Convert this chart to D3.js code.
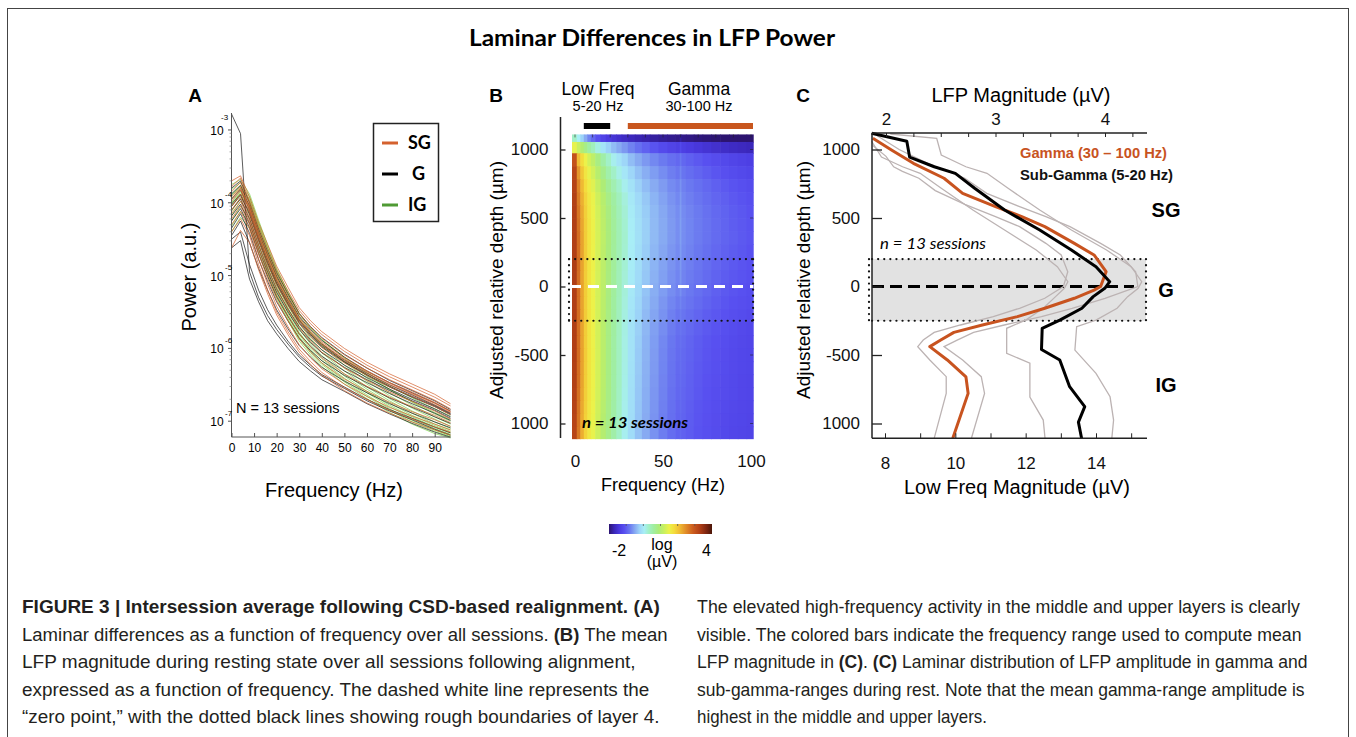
<!DOCTYPE html>
<html><head><meta charset="utf-8">
<script src="https://cdn.jsdelivr.net/npm/d3@7"></script>
<style>
body{margin:0;background:#fff;}
svg{display:block;}
</style></head><body>
<svg id="fig" width="1356" height="737"></svg>
<script>
// ---------- Panel A: spectra for every session, one line per layer ----------
const freqA = [0,4,8,12,16,20,25,30,35,40,50,60,70,80,90,97];
// log10 power (a.u.)
const logPowerSG = [
 [-3.70,-3.63,-3.92,-4.27,-4.57,-4.87,-5.16,-5.44,-5.62,-5.77,-6.00,-6.19,-6.35,-6.49,-6.63,-6.76],
 [-3.78,-3.66,-3.98,-4.33,-4.63,-4.92,-5.21,-5.48,-5.66,-5.81,-6.04,-6.23,-6.39,-6.53,-6.67,-6.79],
 [-3.85,-3.72,-4.02,-4.38,-4.69,-4.98,-5.27,-5.53,-5.71,-5.86,-6.09,-6.27,-6.43,-6.57,-6.71,-6.83],
 [-3.92,-3.78,-4.06,-4.42,-4.73,-5.03,-5.32,-5.58,-5.76,-5.91,-6.13,-6.31,-6.47,-6.60,-6.74,-6.86],
 [-3.98,-3.83,-4.10,-4.47,-4.79,-5.08,-5.37,-5.62,-5.80,-5.95,-6.17,-6.34,-6.50,-6.63,-6.77,-6.88],
 [-4.05,-3.88,-4.14,-4.52,-4.84,-5.13,-5.41,-5.66,-5.84,-5.99,-6.20,-6.37,-6.53,-6.66,-6.80,-6.91],
 [-4.10,-3.93,-4.20,-4.58,-4.90,-5.19,-5.47,-5.72,-5.90,-6.05,-6.27,-6.44,-6.60,-6.73,-6.86,-6.97],
 [-4.15,-3.98,-4.25,-4.64,-4.97,-5.27,-5.55,-5.80,-5.98,-6.13,-6.35,-6.52,-6.67,-6.80,-6.92,-7.02],
 [-4.22,-4.04,-4.30,-4.70,-5.04,-5.34,-5.62,-5.87,-6.05,-6.20,-6.42,-6.59,-6.74,-6.87,-6.98,-7.07],
 [-4.30,-4.12,-4.36,-4.77,-5.12,-5.42,-5.70,-5.95,-6.13,-6.28,-6.49,-6.66,-6.81,-6.93,-7.04,-7.12],
 [-4.40,-4.22,-4.45,-4.85,-5.20,-5.50,-5.77,-6.01,-6.18,-6.33,-6.54,-6.70,-6.85,-6.97,-7.08,-7.15],
 [-4.62,-4.38,-4.55,-4.92,-5.25,-5.54,-5.81,-6.05,-6.22,-6.37,-6.58,-6.75,-6.89,-7.01,-7.12,-7.19],
 [-3.95,-3.80,-4.08,-4.45,-4.76,-5.05,-5.34,-5.60,-5.78,-5.93,-6.15,-6.32,-6.48,-6.62,-6.75,-6.87]
];
const logPowerG = [
 [-2.78,-3.05,-4.95,-5.30,-5.55,-5.74,-5.94,-6.12,-6.26,-6.38,-6.55,-6.72,-6.86,-6.98,-7.11,-7.19],
 [-4.62,-4.52,-5.05,-5.36,-5.62,-5.80,-6.00,-6.18,-6.31,-6.43,-6.59,-6.76,-6.90,-7.03,-7.15,-7.22],
 [-3.80,-3.70,-4.00,-4.36,-4.67,-4.96,-5.25,-5.52,-5.70,-5.85,-6.08,-6.27,-6.44,-6.58,-6.72,-6.84],
 [-3.88,-3.76,-4.05,-4.41,-4.72,-5.01,-5.30,-5.56,-5.74,-5.89,-6.12,-6.31,-6.47,-6.61,-6.75,-6.86],
 [-3.95,-3.82,-4.10,-4.46,-4.78,-5.07,-5.35,-5.61,-5.79,-5.94,-6.16,-6.34,-6.50,-6.64,-6.78,-6.89],
 [-4.02,-3.88,-4.16,-4.52,-4.84,-5.12,-5.40,-5.65,-5.83,-5.98,-6.19,-6.37,-6.53,-6.67,-6.80,-6.91],
 [-4.10,-3.95,-4.22,-4.58,-4.90,-5.18,-5.46,-5.70,-5.88,-6.02,-6.23,-6.40,-6.56,-6.70,-6.83,-6.94],
 [-4.18,-4.02,-4.28,-4.64,-4.95,-5.23,-5.50,-5.74,-5.92,-6.06,-6.26,-6.43,-6.58,-6.72,-6.85,-6.96],
 [-4.25,-4.08,-4.34,-4.70,-5.01,-5.29,-5.56,-5.80,-5.97,-6.11,-6.31,-6.47,-6.62,-6.76,-6.89,-6.99],
 [-4.35,-4.15,-4.42,-4.78,-5.08,-5.36,-5.62,-5.86,-6.03,-6.17,-6.37,-6.53,-6.68,-6.81,-6.94,-7.03],
 [-4.45,-4.25,-4.55,-4.90,-5.20,-5.47,-5.73,-5.96,-6.12,-6.26,-6.45,-6.61,-6.76,-6.89,-7.01,-7.09],
 [-4.50,-4.40,-4.85,-5.20,-5.47,-5.68,-5.90,-6.09,-6.23,-6.36,-6.53,-6.70,-6.84,-6.96,-7.08,-7.16],
 [-4.05,-3.90,-4.14,-4.50,-4.82,-5.10,-5.38,-5.63,-5.81,-5.96,-6.18,-6.36,-6.52,-6.66,-6.79,-6.90]
];
const logPowerIG = [
 [-3.75,-3.68,-3.88,-4.24,-4.58,-4.90,-5.22,-5.52,-5.72,-5.88,-6.14,-6.36,-6.56,-6.74,-6.90,-7.00],
 [-3.82,-3.72,-3.92,-4.28,-4.62,-4.94,-5.27,-5.57,-5.77,-5.93,-6.19,-6.41,-6.61,-6.78,-6.94,-7.04],
 [-3.88,-3.76,-3.95,-4.31,-4.66,-4.98,-5.31,-5.61,-5.81,-5.97,-6.23,-6.45,-6.65,-6.82,-6.97,-7.07],
 [-3.95,-3.80,-3.99,-4.35,-4.70,-5.03,-5.36,-5.66,-5.86,-6.02,-6.27,-6.49,-6.69,-6.86,-7.01,-7.10],
 [-4.00,-3.84,-4.03,-4.39,-4.74,-5.07,-5.40,-5.70,-5.90,-6.06,-6.31,-6.53,-6.72,-6.89,-7.04,-7.12],
 [-4.05,-3.88,-4.07,-4.43,-4.78,-5.11,-5.44,-5.74,-5.94,-6.10,-6.35,-6.56,-6.75,-6.92,-7.06,-7.14],
 [-4.12,-3.93,-4.11,-4.47,-4.82,-5.15,-5.48,-5.78,-5.98,-6.14,-6.38,-6.59,-6.78,-6.94,-7.08,-7.16],
 [-4.18,-3.98,-4.16,-4.52,-4.87,-5.20,-5.52,-5.81,-6.01,-6.17,-6.41,-6.61,-6.80,-6.96,-7.10,-7.18],
 [-4.25,-4.05,-4.22,-4.58,-4.92,-5.24,-5.56,-5.84,-6.04,-6.20,-6.44,-6.64,-6.83,-6.99,-7.12,-7.20],
 [-4.32,-4.12,-4.28,-4.63,-4.96,-5.28,-5.59,-5.87,-6.06,-6.22,-6.46,-6.66,-6.85,-7.01,-7.14,-7.21],
 [-3.90,-3.78,-3.97,-4.30,-4.62,-4.93,-5.24,-5.53,-5.72,-5.88,-6.12,-6.33,-6.52,-6.68,-6.83,-6.93],
 [-4.02,-3.86,-4.04,-4.38,-4.70,-5.01,-5.32,-5.60,-5.79,-5.95,-6.18,-6.38,-6.57,-6.73,-6.88,-6.98],
 [-4.40,-4.20,-4.35,-4.68,-5.00,-5.31,-5.62,-5.90,-6.09,-6.25,-6.49,-6.69,-6.88,-7.04,-7.17,-7.23]
];
const decadesA = [-3,-4,-5,-6,-7];
const xTicksA = [0,10,20,30,40,50,60,70,80,90];
const layerNames = ["SG","G","IG"];

// ---------- Panel B: mean LFP magnitude by depth and frequency ----------
const freqB = [0,2,4,6,8,10,13,16,19,22,25,28,32,36,40,45,50,55,59,60,61,65,70,75,80,85,90,95,100];
const depthB = [1090,1020,925,830,735,640,545,450,355,260,165,70,-25,-120,-215,-310,-405,-500,-595,-690,-785,-880,-975,-1070];
// log10 magnitude (µV), one row per depth
const logMagB = [
 [0.30,0.05,-0.22,-0.48,-0.72,-0.92,-1.12,-1.28,-1.40,-1.48,-1.55,-1.61,-1.67,-1.72,-1.76,-1.80,-1.84,-1.87,-1.90,-1.80,-1.90,-1.92,-1.95,-1.97,-1.99,-2.00,-2.00,-2.00,-2.00],
 [1.45,1.20,0.98,0.78,0.58,0.40,0.16,-0.05,-0.22,-0.36,-0.48,-0.60,-0.74,-0.86,-0.97,-1.08,-1.18,-1.26,-1.32,-1.20,-1.33,-1.38,-1.44,-1.49,-1.54,-1.58,-1.62,-1.65,-1.68],
 [3.05,2.10,1.78,1.50,1.28,1.10,0.82,0.55,0.30,0.10,-0.06,-0.20,-0.36,-0.49,-0.60,-0.70,-0.79,-0.87,-0.92,-0.81,-0.93,-0.98,-1.04,-1.10,-1.15,-1.20,-1.25,-1.29,-1.33],
 [3.20,2.40,2.00,1.68,1.46,1.28,1.02,0.76,0.52,0.31,0.13,-0.03,-0.20,-0.34,-0.46,-0.57,-0.67,-0.76,-0.82,-0.71,-0.83,-0.88,-0.94,-1.00,-1.06,-1.11,-1.16,-1.20,-1.24],
 [3.25,2.55,2.12,1.80,1.58,1.40,1.16,0.92,0.68,0.47,0.28,0.10,-0.08,-0.23,-0.36,-0.48,-0.58,-0.68,-0.74,-0.63,-0.75,-0.80,-0.86,-0.92,-0.98,-1.03,-1.08,-1.12,-1.16],
 [3.28,2.62,2.20,1.88,1.65,1.48,1.25,1.02,0.79,0.58,0.38,0.19,-0.01,-0.16,-0.29,-0.42,-0.53,-0.63,-0.70,-0.59,-0.71,-0.76,-0.82,-0.88,-0.94,-0.99,-1.04,-1.08,-1.12],
 [3.30,2.68,2.25,1.92,1.68,1.50,1.28,1.06,0.84,0.62,0.42,0.23,0.02,-0.13,-0.26,-0.39,-0.50,-0.60,-0.67,-0.56,-0.68,-0.73,-0.79,-0.85,-0.91,-0.96,-1.01,-1.05,-1.09],
 [3.30,2.72,2.28,1.94,1.70,1.52,1.30,1.08,0.86,0.64,0.44,0.25,0.04,-0.11,-0.24,-0.38,-0.49,-0.59,-0.66,-0.55,-0.67,-0.72,-0.78,-0.84,-0.90,-0.95,-1.00,-1.04,-1.08],
 [3.30,2.75,2.30,1.95,1.71,1.53,1.31,1.09,0.87,0.65,0.45,0.26,0.05,-0.10,-0.24,-0.38,-0.49,-0.59,-0.66,-0.55,-0.67,-0.72,-0.78,-0.84,-0.90,-0.95,-0.99,-1.03,-1.07],
 [3.30,2.75,2.30,1.95,1.70,1.52,1.30,1.08,0.86,0.64,0.44,0.25,0.04,-0.12,-0.26,-0.40,-0.51,-0.61,-0.68,-0.57,-0.69,-0.74,-0.80,-0.86,-0.92,-0.97,-1.01,-1.05,-1.09],
 [3.32,2.76,2.30,1.95,1.70,1.52,1.30,1.08,0.86,0.64,0.43,0.24,0.03,-0.13,-0.28,-0.42,-0.53,-0.63,-0.70,-0.59,-0.71,-0.76,-0.82,-0.88,-0.94,-0.99,-1.03,-1.07,-1.10],
 [3.32,2.76,2.30,1.95,1.70,1.52,1.30,1.08,0.85,0.63,0.42,0.22,0.01,-0.15,-0.30,-0.44,-0.55,-0.65,-0.72,-0.61,-0.73,-0.78,-0.84,-0.90,-0.96,-1.01,-1.05,-1.08,-1.12],
 [3.30,2.75,2.30,1.95,1.70,1.52,1.30,1.07,0.84,0.62,0.41,0.21,-0.01,-0.17,-0.32,-0.46,-0.57,-0.67,-0.74,-0.65,-0.75,-0.80,-0.86,-0.92,-0.98,-1.03,-1.07,-1.10,-1.14],
 [3.30,2.75,2.30,1.95,1.70,1.52,1.30,1.06,0.83,0.61,0.40,0.19,-0.03,-0.20,-0.35,-0.49,-0.61,-0.71,-0.78,-0.72,-0.79,-0.84,-0.90,-0.96,-1.01,-1.06,-1.10,-1.13,-1.16],
 [3.30,2.75,2.30,1.95,1.70,1.52,1.29,1.05,0.82,0.60,0.38,0.17,-0.05,-0.22,-0.38,-0.52,-0.64,-0.75,-0.82,-0.77,-0.83,-0.88,-0.94,-1.00,-1.05,-1.09,-1.13,-1.16,-1.19],
 [3.30,2.75,2.30,1.95,1.70,1.52,1.29,1.05,0.81,0.59,0.37,0.16,-0.07,-0.24,-0.40,-0.55,-0.67,-0.78,-0.86,-0.82,-0.87,-0.92,-0.98,-1.03,-1.08,-1.12,-1.16,-1.19,-1.22],
 [3.30,2.75,2.30,1.95,1.70,1.52,1.29,1.05,0.81,0.58,0.36,0.15,-0.08,-0.26,-0.42,-0.57,-0.70,-0.81,-0.89,-0.85,-0.90,-0.95,-1.01,-1.06,-1.10,-1.14,-1.18,-1.21,-1.23],
 [3.30,2.76,2.31,1.96,1.71,1.53,1.30,1.05,0.81,0.58,0.36,0.15,-0.08,-0.27,-0.43,-0.58,-0.71,-0.82,-0.90,-0.86,-0.91,-0.96,-1.02,-1.07,-1.11,-1.15,-1.19,-1.22,-1.24],
 [3.28,2.75,2.30,1.95,1.70,1.52,1.29,1.05,0.81,0.58,0.36,0.14,-0.09,-0.28,-0.44,-0.59,-0.72,-0.83,-0.91,-0.87,-0.92,-0.97,-1.03,-1.08,-1.12,-1.16,-1.19,-1.22,-1.24],
 [3.28,2.74,2.29,1.94,1.70,1.52,1.29,1.05,0.80,0.57,0.35,0.13,-0.10,-0.29,-0.45,-0.60,-0.73,-0.84,-0.92,-0.88,-0.93,-0.98,-1.04,-1.09,-1.13,-1.17,-1.20,-1.23,-1.25],
 [3.26,2.72,2.27,1.93,1.69,1.51,1.28,1.04,0.80,0.57,0.34,0.12,-0.11,-0.30,-0.46,-0.61,-0.74,-0.85,-0.93,-0.89,-0.94,-0.99,-1.05,-1.10,-1.14,-1.17,-1.20,-1.23,-1.25],
 [3.25,2.70,2.25,1.92,1.68,1.50,1.27,1.03,0.79,0.56,0.33,0.11,-0.12,-0.31,-0.47,-0.62,-0.75,-0.86,-0.94,-0.90,-0.95,-1.00,-1.06,-1.10,-1.14,-1.18,-1.21,-1.23,-1.25],
 [3.22,2.68,2.23,1.90,1.66,1.48,1.25,1.01,0.78,0.55,0.32,0.10,-0.13,-0.32,-0.48,-0.63,-0.76,-0.87,-0.95,-0.91,-0.96,-1.01,-1.07,-1.11,-1.15,-1.19,-1.22,-1.24,-1.26],
 [3.20,2.66,2.21,1.88,1.65,1.47,1.24,1.00,0.77,0.54,0.31,0.09,-0.14,-0.33,-0.49,-0.64,-0.77,-0.88,-0.96,-0.92,-0.97,-1.02,-1.08,-1.12,-1.16,-1.20,-1.23,-1.25,-1.27]
];
const depthTicks = [1000,500,0,-500,-1000];
const depthTickLabels = ["1000","500","0","-500","1000"];
const freqTicksB = [0,50,100];
const lowBand = [5,20];
const gammaBand = [30,100];
const layer4Bounds = [200,-250];
const colorValues = [-2.0,-1.7,-1.4,-1.1,-0.8,-0.5,-0.2,0.05,0.3,0.6,0.9,1.2,1.5,1.8,2.1,2.5,2.9,3.3,3.7,4.0];
const colorHex = ["#2c1470","#3a26b8","#4a3ae0","#5850f0","#6a78f0","#86a8f2","#9ed6f8","#a8eef6","#a2f0c8","#a0eea0","#acec78","#c8f060","#ecf24a","#f4dc3c","#f0bc34","#e08a28","#cc5c1e","#b03e16","#7a2410","#4a1608"];
const colorbarRange = [-2,4];

// ---------- Panel C: laminar profile of mean magnitude ----------
// [depth µm, gamma magnitude µV]  (upper axis)
const gammaMean = [[1082,1.88],[996,2.05],[899,2.25],[790,2.53],[680,2.70],[583,3.00],[510,3.24],[437,3.45],[315,3.72],[230,3.90],[108,4.01],[0,3.96],[-26,3.90],[-86,3.72],[-159,3.45],[-220,3.20],[-281,2.88],[-335,2.62],[-391,2.50],[-439,2.40],[-536,2.56],[-660,2.73],[-780,2.75],[-1108,2.61]];
const gammaLow = [[1030,1.88],[950,2.00],[874,2.07],[840,2.15],[790,2.30],[700,2.45],[600,2.72],[510,3.00],[437,3.22],[315,3.46],[230,3.60],[108,3.66],[0,3.62],[-86,3.45],[-159,3.22],[-220,2.98],[-281,2.68],[-335,2.44],[-391,2.34],[-439,2.29],[-536,2.40],[-658,2.55],[-780,2.55],[-1108,2.44]];
const gammaHigh = [[1100,1.92],[1000,2.12],[899,2.38],[790,2.72],[680,2.92],[583,3.22],[510,3.46],[437,3.68],[315,3.96],[230,4.14],[108,4.28],[0,4.30],[-86,4.00],[-159,3.70],[-220,3.42],[-281,3.08],[-335,2.80],[-391,2.65],[-439,2.53],[-536,2.70],[-658,2.87],[-780,2.90],[-1108,2.78]];
// [depth µm, sub-gamma magnitude µV]  (lower axis)
const subMean = [[1118,7.62],[1060,8.62],[945,8.70],[874,9.40],[826,10.00],[717,10.55],[558,11.40],[412,12.40],[266,13.30],[145,14.00],[35,14.39],[-13,14.25],[-74,13.92],[-159,13.60],[-245,12.97],[-305,12.47],[-460,12.45],[-536,12.97],[-731,13.25],[-877,13.68],[-990,13.50],[-1108,13.59]];
const subLow = [[1060,7.62],[945,7.90],[874,8.50],[826,9.00],[717,9.60],[558,10.50],[412,11.40],[266,12.30],[145,12.90],[35,13.20],[-13,13.10],[-74,12.85],[-159,12.50],[-245,12.00],[-305,11.46],[-488,11.46],[-560,12.12],[-808,12.12],[-975,12.50],[-1108,12.55]];
const subHigh = [[1113,8.15],[1082,9.47],[960,9.60],[874,10.30],[826,10.90],[717,11.50],[558,12.40],[412,13.30],[266,14.30],[145,15.00],[35,15.30],[-13,15.20],[-74,14.90],[-159,14.60],[-245,14.00],[-293,13.45],[-464,13.40],[-634,14.00],[-805,14.40],[-975,14.50],[-1108,14.45]];
const topTicksC = [2,2.25,2.5,2.75,3,3.25,3.5,3.75,4,4.25];
const bottomTicksC = [8,9,10,11,12,13,14,15];
const layerLabelsC = [["SG",560],["G",-25],["IG",-720]];

// ---------- caption ----------
const captionLeft = [
 [["FIGURE 3 | Intersession average following CSD-based realignment. (A)",true]],
 [["Laminar differences as a function of frequency over all sessions. ",false],["(B)",true],[" The mean",false]],
 [["LFP magnitude during resting state over all sessions following alignment,",false]],
 [["expressed as a function of frequency. The dashed white line represents the",false]],
 [["\u201Czero point,\u201D with the dotted black lines showing rough boundaries of layer 4.",false]]
];
const captionRight = [
 [["The elevated high-frequency activity in the middle and upper layers is clearly",false]],
 [["visible. The colored bars indicate the frequency range used to compute mean",false]],
 [["LFP magnitude in ",false],["(C)",true],[". ",false],["(C)",true],[" Laminar distribution of LFP amplitude in gamma and",false]],
 [["sub-gamma-ranges during rest. Note that the mean gamma-range amplitude is",false]],
 [["highest in the middle and upper layers.",false]]
];
const captionLeftWidths = [638,646,614,628,638];
const captionRightWidths = [603,605,611,608,290];

// ======================================================================
const SANS = "'Liberation Sans', Arial, Helvetica, sans-serif";
const HUM = "Lato, 'Open Sans', sans-serif";
const svg = d3.select("#fig");

svg.append("rect").attr("x",7.5).attr("y",8.5).attr("width",1341).attr("height",740)
  .attr("fill","none").attr("stroke","#444").attr("stroke-width",1);

svg.append("text").attr("x",652).attr("y",46).attr("text-anchor","middle")
  .attr("font-family",HUM).attr("font-weight",700).attr("font-size",22)
  .attr("textLength",366).attr("lengthAdjust","spacingAndGlyphs")
  .text("Laminar Differences in LFP Power");

function panelLetter(x,y,t){
  svg.append("text").attr("x",x).attr("y",y).attr("text-anchor","middle")
    .attr("font-family",SANS).attr("font-weight",700).attr("font-size",19).text(t);
}
panelLetter(195,102,"A"); panelLetter(496,102,"B"); panelLetter(803,102,"C");

// ---------------- Panel A ----------------
const xA = d3.scaleLinear().domain([0,97]).range([231.5,450.5]);
const yA = d3.scaleLog().domain([Math.pow(10,-7.217),Math.pow(10,-2.767)]).range([437,113]);
const gA = svg.append("g");
const lineA = d3.line().x((d,i)=>xA(freqA[i])).y(d=>yA(Math.pow(10,d)));
const layerColors = {SG:"#d4612e", G:"#1c1c1c", IG:"#7cd24a"};
[["IG",logPowerIG],["G",logPowerG],["SG",logPowerSG]].forEach(([k,rows])=>{
  gA.append("g").selectAll("path").data(rows).join("path")
    .attr("d",lineA).attr("fill","none").attr("stroke",layerColors[k])
    .attr("stroke-width",0.85).attr("stroke-opacity",0.85);
});
// y axis (log)
gA.append("line").attr("x1",231.5).attr("x2",231.5).attr("y1",113).attr("y2",437).attr("stroke","#555").attr("stroke-width",1);
decadesA.forEach(e=>{
  const y = yA(Math.pow(10,e));
  gA.append("line").attr("x1",228).attr("x2",231.5).attr("y1",y).attr("y2",y).attr("stroke","#555");
  for(let m=2;m<10;m++){
    const ym = yA(m*Math.pow(10,e));
    if(ym>=113) gA.append("line").attr("x1",229.5).attr("x2",231.5).attr("y1",ym).attr("y2",ym).attr("stroke","#888").attr("stroke-width",0.7);
  }
  gA.append("text").attr("x",217).attr("y",y+5).attr("text-anchor","middle")
    .attr("font-family",SANS).attr("font-size",12).text("10");
  gA.append("text").attr("x",e===-3?221:225).attr("y",e===-3?y-10:y-5.5).attr("text-anchor","start")
    .attr("font-family",SANS).attr("font-size",8).text(String(e));
});
// x axis
const axA = gA.append("g").attr("transform","translate(0,437)")
  .call(d3.axisBottom(xA).tickValues(xTicksA).tickSizeInner(-4).tickSizeOuter(0).tickPadding(6));
axA.select(".domain").remove();
axA.selectAll("line").attr("stroke","#555");
axA.selectAll("text").attr("font-family",SANS).attr("font-size",12);
gA.append("line").attr("x1",231.5).attr("x2",450.5).attr("y1",437).attr("y2",437).attr("stroke","#555");
gA.append("text").attr("x",334).attr("y",497).attr("text-anchor","middle")
  .attr("font-family",SANS).attr("font-size",20).text("Frequency (Hz)");
gA.append("text").attr("transform","translate(196,277) rotate(-90)").attr("text-anchor","middle")
  .attr("font-family",SANS).attr("font-size",20).text("Power (a.u.)");
gA.append("text").attr("x",236).attr("y",413).attr("font-family",SANS).attr("font-size",14.5).text("N = 13 sessions");
// legend
gA.append("rect").attr("x",373.5).attr("y",123.5).attr("width",65).attr("height",98)
  .attr("fill","#fff").attr("stroke","#222").attr("stroke-width",1.5);
const legendColors = {SG:"#d4612e", G:"#000", IG:"#4f9a34"};
layerNames.forEach((n,i)=>{
  const y = 143 + i*31;
  gA.append("line").attr("x1",382).attr("x2",398).attr("y1",y).attr("y2",y)
    .attr("stroke",legendColors[n]).attr("stroke-width",3);
  gA.append("text").attr("x",n==="G"?412:408).attr("y",y+6).attr("font-family",HUM)
    .attr("font-weight",700).attr("font-size",18).text(n);
});

// ---------------- Panel B ----------------
const xB = d3.scaleLinear().domain([0,100]).range([575,751]);
const yD = d3.scaleLinear().domain([-1000,1000]).range([423.5,149.5]);
const color = d3.scaleLinear().domain(colorValues).range(colorHex).interpolate(d3.interpolateRgb).clamp(true);
const gB = svg.append("g");
const fEdges = freqB.map((f,i)=> i===0 ? -1.7 : (freqB[i-1]+f)/2).concat([101.2]);
const dEdges = depthB.map((d,i)=> i===0 ? 1110 : (depthB[i-1]+d)/2).concat([-1110]);
const cells = [];
logMagB.forEach((row,r)=>row.forEach((v,c)=>cells.push({r,c,v})));
gB.append("g").selectAll("rect").data(cells).join("rect")
  .attr("x",d=>xB(fEdges[d.c]))
  .attr("width",d=>xB(fEdges[d.c+1])-xB(fEdges[d.c])+0.6)
  .attr("y",d=>yD(dEdges[d.r]))
  .attr("height",d=>yD(dEdges[d.r+1])-yD(dEdges[d.r])+0.6)
  .attr("fill",d=>color(d.v));
// frame ticks of the image
const hx0 = xB(-1.7), hx1 = xB(101.2), hy0 = yD(1110), hy1 = yD(-1110);
[0,10,20,30,40,50,60,70,80,90,100].forEach(f=>{
  gB.append("line").attr("x1",xB(f)).attr("x2",xB(f)).attr("y1",hy0).attr("y2",hy0+3).attr("stroke","#222").attr("stroke-opacity",0.6);
});
depthTicks.forEach(d=>{
  gB.append("line").attr("x1",hx1).attr("x2",hx1-3).attr("y1",yD(d)).attr("y2",yD(d)).attr("stroke","#222").attr("stroke-opacity",0.6);
});
// layer 4 box and zero line
const dotted = {stroke:"#111","stroke-width":2.2,"stroke-dasharray":"0.1 6","stroke-linecap":"round"};
function applyAttrs(sel,a){ Object.entries(a).forEach(([k,v])=>sel.attr(k,v)); return sel; }
applyAttrs(gB.append("line").attr("x1",569).attr("x2",hx1).attr("y1",yD(layer4Bounds[0])).attr("y2",yD(layer4Bounds[0])),dotted);
applyAttrs(gB.append("line").attr("x1",569).attr("x2",hx1).attr("y1",yD(layer4Bounds[1])).attr("y2",yD(layer4Bounds[1])),dotted);
applyAttrs(gB.append("line").attr("x1",569).attr("x2",569).attr("y1",yD(layer4Bounds[0])).attr("y2",yD(layer4Bounds[1])),dotted);
applyAttrs(gB.append("line").attr("x1",hx1).attr("x2",hx1).attr("y1",yD(layer4Bounds[0])).attr("y2",yD(layer4Bounds[1])),dotted);
gB.append("line").attr("x1",570).attr("x2",hx1).attr("y1",yD(0)).attr("y2",yD(0))
  .attr("stroke","#fff").attr("stroke-width",3).attr("stroke-dasharray","11 7");
// band bars
gB.append("rect").attr("x",xB(lowBand[0])).attr("width",xB(lowBand[1])-xB(lowBand[0])).attr("y",123).attr("height",6).attr("fill","#000");
gB.append("rect").attr("x",xB(gammaBand[0])).attr("width",xB(gammaBand[1])-xB(gammaBand[0])+2).attr("y",123).attr("height",6).attr("fill","#c8561e");
gB.append("text").attr("x",598).attr("y",94.5).attr("text-anchor","middle").attr("font-family",SANS).attr("font-size",17.5).text("Low Freq");
gB.append("text").attr("x",598).attr("y",111).attr("text-anchor","middle").attr("font-family",SANS).attr("font-size",14.5).text("5-20 Hz");
gB.append("text").attr("x",699).attr("y",94.5).attr("text-anchor","middle").attr("font-family",SANS).attr("font-size",17.5).text("Gamma");
gB.append("text").attr("x",699).attr("y",111).attr("text-anchor","middle").attr("font-family",SANS).attr("font-size",14.5).text("30-100 Hz");
// axes
function depthAxis(g,x0,top,bottom,len){
  const ax = g.append("g").attr("transform",`translate(${x0},0)`)
    .call(d3.axisLeft(yD).tickValues(depthTicks).tickFormat((d,i)=>depthTickLabels[i])
      .tickSizeInner(-len).tickSizeOuter(0).tickPadding(12));
  ax.select(".domain").remove();
  ax.selectAll("line").attr("stroke","#222").attr("stroke-width",1.3);
  ax.selectAll("text").attr("font-family",SANS).attr("font-size",17).attr("fill","#111");
  ax.append("line").attr("x1",0).attr("x2",0).attr("y1",top).attr("y2",bottom).attr("stroke","#222").attr("stroke-width",1.5);
}
depthAxis(gB,560.5,117,438,5);
const axB = gB.append("g").attr("transform","translate(0,438)")
  .call(d3.axisBottom(xB).tickValues(freqTicksB).tickSize(0).tickPadding(17));
axB.select(".domain").remove();
axB.selectAll("text").attr("font-family",SANS).attr("font-size",17).attr("fill","#111");
gB.append("text").attr("x",663).attr("y",491).attr("text-anchor","middle").attr("font-family",SANS).attr("font-size",18).text("Frequency (Hz)");
gB.append("text").attr("transform","translate(503,280) rotate(-90)").attr("text-anchor","middle")
  .attr("font-family",SANS).attr("font-size",19).text("Adjusted relative depth (\u00B5m)");
gB.append("text").attr("x",582).attr("y",428).attr("font-family",HUM).attr("font-weight",700)
  .attr("font-style","italic").attr("font-size",16).attr("textLength",106).attr("lengthAdjust","spacingAndGlyphs")
  .text("n = 13 sessions");
// colour bar
const cb = d3.scaleLinear().domain(colorbarRange).range([609,712]);
const grad = svg.append("defs").append("linearGradient").attr("id","cbar").attr("x1","0%").attr("x2","100%");
colorValues.forEach((v,i)=>grad.append("stop")
  .attr("offset",((v-colorbarRange[0])/(colorbarRange[1]-colorbarRange[0])*100)+"%").attr("stop-color",colorHex[i]));
svg.append("rect").attr("x",cb(-2)).attr("y",524).attr("width",cb(4)-cb(-2)).attr("height",10).attr("fill","url(#cbar)");
[-1,0,1,2,3].forEach(v=>svg.append("line").attr("x1",cb(v)).attr("x2",cb(v)).attr("y1",524).attr("y2",526).attr("stroke","#555").attr("stroke-width",0.8));
svg.append("text").attr("x",cb(-2)+3).attr("y",556).attr("font-family",SANS).attr("font-size",16).text("-2");
svg.append("text").attr("x",cb(4)-1).attr("y",556).attr("text-anchor","end").attr("font-family",SANS).attr("font-size",16).text("4");
svg.append("text").attr("x",662).attr("y",550).attr("text-anchor","middle").attr("font-family",SANS).attr("font-size",16).text("log");
svg.append("text").attr("x",662).attr("y",567).attr("text-anchor","middle").attr("font-family",SANS).attr("font-size",16).text("(\u00B5V)");

// ---------------- Panel C ----------------
const gC = svg.append("g");
const xTop = d3.scaleLinear().domain([2,4]).range([886,1105]);
const xBot = d3.scaleLinear().domain([8,14]).range([885,1096]);
const cx0 = 872, cx1 = 1147, cyTop = 133, cyBot = 438.3;
// layer 4 band
gC.append("rect").attr("x",cx0).attr("width",cx1-1-cx0).attr("y",yD(layer4Bounds[0])).attr("height",yD(layer4Bounds[1])-yD(layer4Bounds[0])).attr("fill","#e2e2e2");
applyAttrs(gC.append("line").attr("x1",cx0).attr("x2",cx1-1).attr("y1",yD(layer4Bounds[0])).attr("y2",yD(layer4Bounds[0])),dotted);
applyAttrs(gC.append("line").attr("x1",cx0).attr("x2",cx1-1).attr("y1",yD(layer4Bounds[1])).attr("y2",yD(layer4Bounds[1])),dotted);
applyAttrs(gC.append("line").attr("x1",cx1-1).attr("x2",cx1-1).attr("y1",yD(layer4Bounds[0])).attr("y2",yD(layer4Bounds[1])),dotted);
applyAttrs(gC.append("line").attr("x1",869).attr("x2",869).attr("y1",yD(layer4Bounds[0])).attr("y2",yD(layer4Bounds[1])),dotted);
gC.append("line").attr("x1",cx0).attr("x2",1134).attr("y1",yD(0)).attr("y2",yD(0))
  .attr("stroke","#000").attr("stroke-width",3).attr("stroke-dasharray","12 6");
// profiles
const lineTop = d3.line().x(d=>xTop(d[1])).y(d=>yD(d[0]));
const lineBot = d3.line().x(d=>xBot(d[1])).y(d=>yD(d[0]));
[gammaLow,gammaHigh].forEach(s=>gC.append("path").attr("d",lineTop(s)).attr("fill","none").attr("stroke","#bcb3b3").attr("stroke-width",1.3));
[subLow,subHigh].forEach(s=>gC.append("path").attr("d",lineBot(s)).attr("fill","none").attr("stroke","#bcb3b3").attr("stroke-width",1.3));
gC.append("path").attr("d",lineTop(gammaMean)).attr("fill","none").attr("stroke","#c8531f").attr("stroke-width",3).attr("stroke-linejoin","round");
gC.append("path").attr("d",lineBot(subMean)).attr("fill","none").attr("stroke","#000").attr("stroke-width",3).attr("stroke-linejoin","round");
// axes
depthAxis(gC,cx0,cyTop,cyBot,10);
const axTop = gC.append("g").attr("transform",`translate(0,${cyTop})`)
  .call(d3.axisTop(xTop).tickValues(topTicksC).tickFormat(d=>Number.isInteger(d)?d:"").tickSizeInner(-4).tickSizeOuter(0).tickPadding(8));
axTop.select(".domain").remove();
axTop.selectAll("line").attr("stroke","#222");
axTop.selectAll("text").attr("font-family",SANS).attr("font-size",17).attr("fill","#111");
gC.append("line").attr("x1",cx0).attr("x2",cx1).attr("y1",cyTop).attr("y2",cyTop).attr("stroke","#222").attr("stroke-width",1.5);
const axBot = gC.append("g").attr("transform",`translate(0,${cyBot})`)
  .call(d3.axisBottom(xBot).tickValues(bottomTicksC).tickFormat(d=>d%2===0?d:"").tickSizeInner(-5).tickSizeOuter(0).tickPadding(19));
axBot.select(".domain").remove();
axBot.selectAll("line").attr("stroke","#222");
axBot.selectAll("text").attr("font-family",SANS).attr("font-size",17).attr("fill","#111");
gC.append("line").attr("x1",cx0).attr("x2",cx1).attr("y1",cyBot).attr("y2",cyBot).attr("stroke","#222").attr("stroke-width",1.5);
gC.append("text").attr("x",1021).attr("y",102).attr("text-anchor","middle").attr("font-family",SANS).attr("font-size",20).text("LFP Magnitude (\u00B5V)");
gC.append("text").attr("x",1017).attr("y",494).attr("text-anchor","middle").attr("font-family",SANS).attr("font-size",20).text("Low Freq Magnitude (\u00B5V)");
gC.append("text").attr("transform","translate(810,280) rotate(-90)").attr("text-anchor","middle")
  .attr("font-family",SANS).attr("font-size",19).text("Adjusted relative depth (\u00B5m)");
gC.append("text").attr("x",880).attr("y",249).attr("font-family",HUM).attr("font-style","italic")
  .attr("font-size",16).attr("textLength",106).attr("lengthAdjust","spacingAndGlyphs").text("n = 13 sessions");
gC.append("text").attr("x",1020).attr("y",158).attr("font-family",SANS).attr("font-weight",700).attr("font-size",14)
  .attr("fill","#c8531f").attr("textLength",147).attr("lengthAdjust","spacingAndGlyphs").text("Gamma (30 \u2013 100 Hz)");
gC.append("text").attr("x",1020).attr("y",180).attr("font-family",SANS).attr("font-weight",700).attr("font-size",14)
  .attr("fill","#111").attr("textLength",153).attr("lengthAdjust","spacingAndGlyphs").text("Sub-Gamma (5-20 Hz)");
layerLabelsC.forEach(([t,d])=>gC.append("text").attr("x",1166).attr("y",yD(d)+7).attr("text-anchor","middle")
  .attr("font-family",SANS).attr("font-weight",700).attr("font-size",20).text(t));

// ---------------- caption ----------------
// each line is laid out at its natural width, then condensed horizontally to its column width
const CAP = "'Liberation Sans Narrow', 'Liberation Sans', Arial, sans-serif";
function caption(lines,widths,x,y0){
  lines.forEach((parts,i)=>{
    const t = svg.append("text").attr("font-family",CAP).attr("font-size",18.5).attr("fill","#231f20");
    parts.forEach(([s,b])=>t.append("tspan").attr("font-weight",b?700:400).text(s));
    const natural = t.node().getComputedTextLength();
    t.attr("transform",`translate(${x},${y0+i*27.5}) scale(${(widths[i]/natural).toFixed(4)},1)`);
  });
}
caption(captionLeft,captionLeftWidths,22,613);
caption(captionRight,captionRightWidths,697,613);
</script>
</body></html>
